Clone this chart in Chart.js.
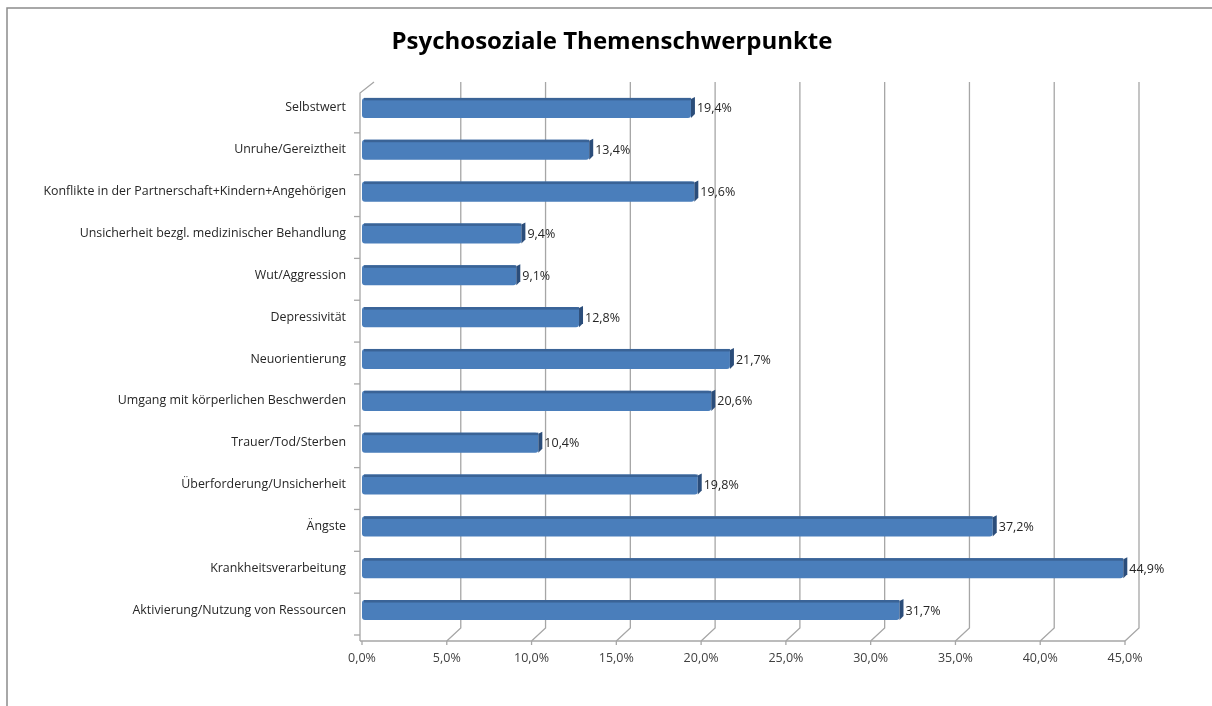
<!DOCTYPE html>
<html>
<head>
<meta charset="utf-8">
<script src="https://cdn.jsdelivr.net/npm/chart.js@4"></script>
<style>
  html, body { margin: 0; padding: 0; background: #fff; }
  #wrap { width: 1212px; height: 706px; }
</style>
</head>
<body>
<div id="wrap"><canvas id="themenChart" width="1212" height="706"></canvas></div>
<script>
const categories = [
    'Selbstwert',
    'Unruhe/Gereiztheit',
    'Konflikte in der Partnerschaft+Kindern+Angehörigen',
    'Unsicherheit bezgl. medizinischer Behandlung',
    'Wut/Aggression',
    'Depressivität',
    'Neuorientierung',
    'Umgang mit körperlichen Beschwerden',
    'Trauer/Tod/Sterben',
    'Überforderung/Unsicherheit',
    'Ängste',
    'Krankheitsverarbeitung',
    'Aktivierung/Nutzung von Ressourcen'
];
const anteile = [19.4, 13.4, 19.6, 9.4, 9.1, 12.8, 21.7, 20.6, 10.4, 19.8, 37.2, 44.9, 31.7];
const xTicks = [0, 5, 10, 15, 20, 25, 30, 35, 40, 45];
const titel = 'Psychosoziale Themenschwerpunkte';

const fmt = v => v.toFixed(1).replace('.', ',') + '%';
const FONT = '"Open Sans", "Noto Sans", sans-serif';

// 3D-artige Wände und Gitterlinien wie im Excel-Original
const wallPlugin = {
    id: 'wall',
    beforeDatasetsDraw(chart) {
        const { ctx, scales: { x }, chartArea } = chart;
        const dx = 14, dy = 13;
        const front = chartArea.bottom + 10;
        const top = chartArea.top - 5;
        ctx.save();
        ctx.strokeStyle = '#a6a6a6';
        ctx.lineWidth = 1.3;
        xTicks.forEach(v => {
            const px = x.getPixelForValue(v);
            if (v > 0) {
                ctx.beginPath();
                ctx.moveTo(px, front);
                ctx.lineTo(px + dx, front - dy);
                ctx.lineTo(px + dx, top);
                ctx.stroke();
            }
            ctx.beginPath();
            ctx.moveTo(px, front);
            ctx.lineTo(px, front + 4);
            ctx.stroke();
        });
        // Boden-Vorderkante
        const x0 = x.getPixelForValue(0) - 2;
        ctx.beginPath();
        ctx.moveTo(x0, front);
        ctx.lineTo(x.getPixelForValue(45), front);
        ctx.stroke();
        // linke Wand
        ctx.beginPath();
        ctx.moveTo(x0 + dx, top);
        ctx.lineTo(x0, top + 11);
        ctx.lineTo(x0, front);
        ctx.stroke();
        const step = (chartArea.bottom - chartArea.top) / categories.length;
        for (let i = 1; i <= categories.length; i++) {
            const y = chartArea.top + i * step + 4;
            ctx.beginPath();
            ctx.moveTo(x0 - 6, y);
            ctx.lineTo(x0, y);
            ctx.stroke();
        }
        ctx.restore();
    },
    afterDatasetsDraw(chart) {
        const { ctx } = chart;
        const meta = chart.getDatasetMeta(0);
        ctx.save();
        meta.data.forEach((bar, i) => {
            const h = bar.height;
            const t = bar.y - h / 2;
            const b = bar.y + h / 2;
            // Oberseite
            ctx.fillStyle = '#3a6396';
            ctx.fillRect(bar.base + 2, t, bar.x - bar.base - 2, 2.5);
            // Seitenfläche rechts
            ctx.fillStyle = '#2b4d7a';
            ctx.beginPath();
            ctx.moveTo(bar.x, t + 1);
            ctx.lineTo(bar.x + 4, t - 1);
            ctx.lineTo(bar.x + 4, b - 4);
            ctx.lineTo(bar.x, b);
            ctx.closePath();
            ctx.fill();
            // Wertbeschriftung
            ctx.fillStyle = '#262626';
            ctx.font = '12.5px ' + FONT;
            ctx.textAlign = 'left';
            ctx.textBaseline = 'middle';
            ctx.fillText(fmt(anteile[i]), bar.x + 6, bar.y + 1);
        });
        ctx.restore();
    }
};

const framePlugin = {
    id: 'frame',
    afterDraw(chart) {
        const { ctx } = chart;
        ctx.save();
        ctx.strokeStyle = '#8c8c8c';
        ctx.lineWidth = 1.5;
        ctx.strokeRect(7, 8, 1215, 720);
        ctx.fillStyle = '#000';
        ctx.font = 'bold 24px ' + FONT;
        ctx.textAlign = 'center';
        ctx.textBaseline = 'middle';
        ctx.fillText(titel, 612, 42);
        ctx.restore();
    }
};

new Chart(document.getElementById('themenChart').getContext('2d'), {
    type: 'bar',
    data: {
        labels: categories,
        datasets: [{
            data: anteile,
            backgroundColor: '#4a7ebb',
            borderWidth: 0,
            borderRadius: 3,
            borderSkipped: false,
            barPercentage: 0.48,
            categoryPercentage: 1
        }]
    },
    options: {
        indexAxis: 'y',
        responsive: false,
        animation: false,
        layout: { padding: { left: 0, right: 87, top: 87, bottom: 20 } },
        plugins: {
            legend: { display: false },
            tooltip: { enabled: false },
            title: { display: false }
        },
        scales: {
            x: {
                min: 0,
                max: 45,
                afterBuildTicks: scale => { scale.ticks = xTicks.map(v => ({ value: v })); },
                grid: { display: false, drawTicks: false },
                border: { display: false },
                ticks: {
                    padding: 20,
                    color: '#404040',
                    font: { family: FONT, size: 12.5 },
                    callback: v => fmt(v)
                }
            },
            y: {
                afterFit: scale => { scale.width = 362; },
                grid: { display: false, drawTicks: false },
                border: { display: false },
                ticks: {
                    padding: 16,
                    color: '#262626',
                    font: { family: FONT, size: 12.4 }
                }
            }
        }
    },
    plugins: [wallPlugin, framePlugin]
});
</script>
</body>
</html>
